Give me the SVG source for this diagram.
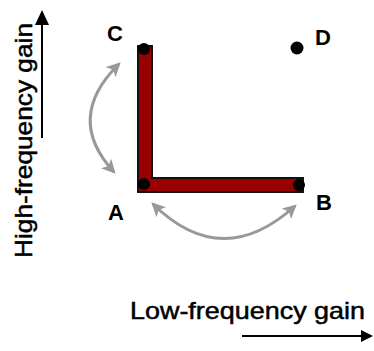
<svg xmlns="http://www.w3.org/2000/svg" width="374" height="351" viewBox="0 0 374 351">
<style>
.axis{stroke:#000;stroke-width:2;fill:none}
.head{fill:#000}
.axlabel{font-family:"Liberation Sans",Arial,sans-serif;font-size:24px;fill:#000;stroke:#000;stroke-width:0.5}
.ptlabel{font-family:"Liberation Sans",Arial,sans-serif;font-size:22px;font-weight:bold;fill:#000}
.dot{fill:#000}
.grey{stroke:#999;stroke-width:3;fill:none}
</style>
<defs>
<marker id="gh" markerUnits="userSpaceOnUse" markerWidth="14" markerHeight="14" refX="10" refY="6" orient="auto-start-reverse" viewBox="0 0 12 12">
<path d="M0,0 L12,6 L0,12 L3,6 Z" fill="#999"/>
</marker>
</defs>
<rect width="374" height="351" fill="#fff"/>
<g id="axes">
<line class="axis" x1="42" y1="138" x2="42" y2="22"/>
<polygon class="head" points="42,10 35,25 49,25"/>
<line class="axis" x1="242" y1="336" x2="362" y2="336"/>
<polygon class="head" points="373,336 361,330 361,342"/>
<text class="axlabel" x="130" y="319" textLength="235" lengthAdjust="spacingAndGlyphs">Low-frequency gain</text>
<text class="axlabel" x="32" y="258" transform="rotate(-90 32 258)" textLength="235" lengthAdjust="spacingAndGlyphs">High-frequency gain</text>
</g>
<g id="connectors">
<path d="M138,46 H152 V178 H303 V192 H138 Z" fill="#990000" stroke="#111" stroke-width="2"/>
<path class="grey" d="M119,64 Q64,118 114,172" marker-start="url(#gh)" marker-end="url(#gh)"/>
<path class="grey" d="M153,204 Q222,272 295,206" marker-start="url(#gh)" marker-end="url(#gh)"/>
</g>
<g id="node-C"><circle class="dot" cx="144" cy="49" r="6"/><text class="ptlabel" x="107" y="41">C</text></g>
<g id="node-A"><circle class="dot" cx="144" cy="184" r="6"/><text class="ptlabel" x="108" y="220">A</text></g>
<g id="node-B"><circle class="dot" cx="299" cy="185" r="6"/><text class="ptlabel" x="316" y="210">B</text></g>
<g id="node-D"><circle class="dot" cx="297" cy="48" r="6.5"/><text class="ptlabel" x="315" y="45">D</text></g>
</svg>
